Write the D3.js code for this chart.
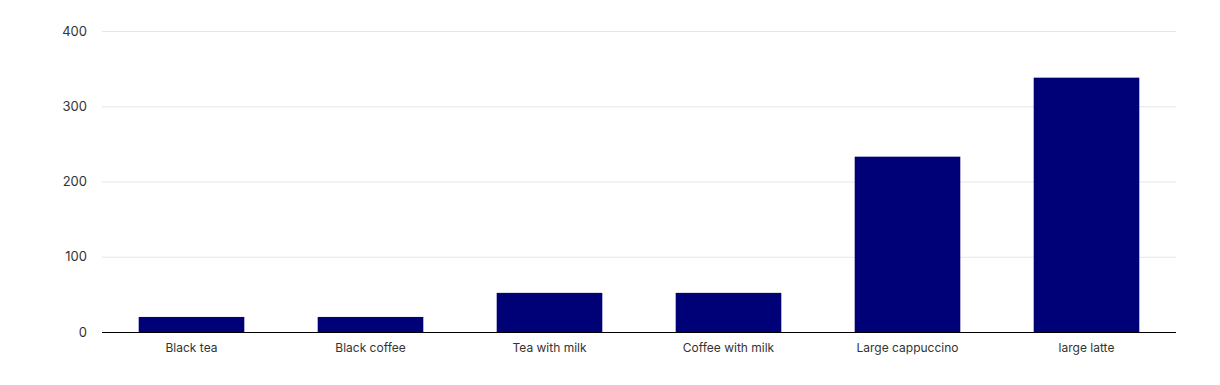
<!DOCTYPE html>
<html>
<head>
<meta charset="utf-8">
<script src="https://cdn.jsdelivr.net/npm/d3@7"></script>
<style>
  body { margin: 0; background: #fff; }
  text { font-family: "Inter", "Lato", sans-serif; fill: #333; }
</style>
</head>
<body>
<div id="draw"></div>
<script>
var categories = ["Black tea", "Black coffee", "Tea with milk", "Coffee with milk", "Large cappuccino", "large latte"];
var values = [20, 20, 52, 52, 233, 338];
var yTicks = [0, 100, 200, 300, 400];

var width = 1220, height = 385;
var margin = { top: 31, right: 44, bottom: 53, left: 102 };

var svg = d3.select('#draw').append('svg')
    .attr('width', width).attr('height', height);

var x = d3.scaleBand()
    .domain(categories)
    .range([margin.left, width - margin.right])
    .paddingInner(0.41).paddingOuter(0.205);

var y = d3.scaleLinear()
    .domain([0, 400])
    .range([height - margin.bottom, margin.top]);

// gridlines
svg.append('g')
    .selectAll('line')
    .data(yTicks.filter(function(d){ return d > 0; }))
    .enter().append('line')
    .attr('x1', margin.left).attr('x2', width - margin.right)
    .attr('y1', function(d){ return y(d) + 0.5; })
    .attr('y2', function(d){ return y(d) + 0.5; })
    .attr('stroke', '#e6e6e6');

// y axis labels
var yAxis = d3.axisLeft(y).tickValues(yTicks).tickSize(0).tickPadding(15);
svg.append('g')
    .attr('transform', 'translate(' + margin.left + ',0)')
    .call(yAxis)
    .call(function(g){ g.select('.domain').remove(); })
    .selectAll('text')
    .style('font-size', '13px')
    .attr('fill', '#333');

// bars
svg.selectAll('rect.bar')
    .data(values)
    .enter().append('rect')
    .attr('class', 'bar')
    .attr('x', function(d, i){ return x(categories[i]); })
    .attr('y', function(d){ return y(d); })
    .attr('width', x.bandwidth())
    .attr('height', function(d){ return y(0) - y(d); })
    .attr('fill', '#000077');

// x axis
var xAxis = d3.axisBottom(x).tickSize(0).tickPadding(11);
svg.append('g')
    .attr('transform', 'translate(0,' + y(0) + ')')
    .call(xAxis)
    .call(function(g){
        g.select('.domain').attr('stroke', '#000').attr('d', 'M' + margin.left + ',0.5H' + (width - margin.right));
    })
    .selectAll('text')
    .style('font-size', '12px')
    .attr('fill', '#333');
</script>
</body>
</html>
